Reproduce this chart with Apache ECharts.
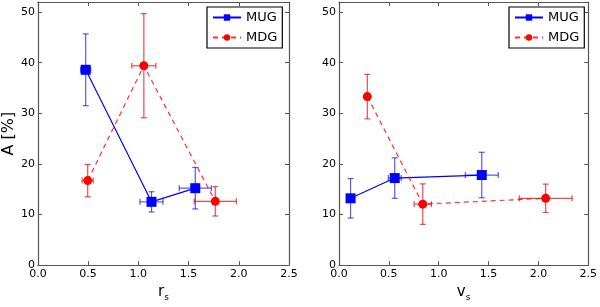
<!DOCTYPE html>
<html><head><meta charset="utf-8">
<script src="https://cdn.jsdelivr.net/npm/echarts@6/dist/echarts.min.js"></script>
<style>html,body{margin:0;padding:0;background:#fff}#c{width:600px;height:307px}</style>
</head><body><div id="c"></div>
<script>
// Left panel: A vs r_s
const rsMUG_x = [0.476, 1.131, 1.567];
const rsMUG_y = [38.6, 12.5, 15.2];
const rsMUG_xerr = [0.05, 0.115, 0.16];
const rsMUG_yerr = [7.1, 2.0, 4.1];
const rsMDG_x = [0.496, 1.055, 1.766];
const rsMDG_y = [16.7, 39.4, 12.6];
const rsMDG_xerr = [0.055, 0.12, 0.21];
const rsMDG_yerr = [3.2, 10.3, 2.9];
// Right panel: A vs v_s
const vsMUG_x = [0.116, 0.559, 1.432];
const vsMUG_y = [13.2, 17.2, 17.8];
const vsMUG_xerr = [0.02, 0.065, 0.165];
const vsMUG_yerr = [3.9, 4.0, 4.5];
const vsMDG_x = [0.284, 0.840, 2.073];
const vsMDG_y = [33.3, 12.05, 13.2];
const vsMDG_xerr = [0.02, 0.087, 0.265];
const vsMDG_yerr = [4.4, 4.0, 2.8];
const seriesNames = ['MUG', 'MDG'];
const xTicks = [0, 0.5, 1.0, 1.5, 2.0, 2.5];
const yTicks = [0, 10, 20, 30, 40, 50];

const FONT = 'DejaVu Sans';
const BLUE = '#0000ff', RED = '#ff0000';
const AXC = '#555';

function pts(xs, ys) { return xs.map((x, i) => [x, ys[i]]); }
function errs(xs, ys, ex, ey) { return xs.map((x, i) => [x, ys[i], ex[i], ey[i]]); }

function errSeries(data, color, xi, yi) {
  return {
    type: 'custom', xAxisIndex: xi, yAxisIndex: yi, z: 1, silent: true,
    encode: { x: 0, y: 1 },
    data: data,
    renderItem: function (params, api) {
      const x = api.value(0), y = api.value(1), ex = api.value(2), ey = api.value(3);
      const L = api.coord([x - ex, y]), R = api.coord([x + ex, y]);
      const T = api.coord([x, y + ey]), B = api.coord([x, y - ey]);
      const c = 3;
      const st = { stroke: color, lineWidth: 1.2, fill: null };
      const line = (x1, y1, x2, y2) => ({ type: 'line', shape: { x1, y1, x2, y2 }, style: st });
      return { type: 'group', children: [
        line(L[0], L[1], R[0], R[1]),
        line(L[0], L[1] - c, L[0], L[1] + c),
        line(R[0], R[1] - c, R[0], R[1] + c),
        line(T[0], T[1], B[0], B[1]),
        line(T[0] - c, T[1], T[0] + c, T[1]),
        line(B[0] - c, B[1], B[0] + c, B[1])
      ]};
    }
  };
}

function xAx(grid, pos, name) {
  return {
    type: 'value', gridIndex: grid, position: pos, min: xTicks[0], max: xTicks[xTicks.length - 1], interval: 0.5,
    axisLine: { show: true, onZero: false, lineStyle: { color: AXC, width: 1.2 } },
    axisTick: { show: true, inside: true, length: 4, lineStyle: { color: AXC } },
    axisLabel: { show: pos === 'bottom', color: '#000', fontFamily: FONT, fontSize: 11, margin: 4,
      formatter: v => v.toFixed(1) },
    splitLine: { show: false },
    name: pos === 'bottom' ? name : '', nameLocation: 'middle', nameGap: 15,
    nameTextStyle: { color: '#000', fontFamily: FONT, fontSize: 15,
      rich: { s: { fontFamily: FONT, fontSize: 9, color: '#000', verticalAlign: 'bottom', padding: [10, 0, 0, 0] } } }
  };
}
function yAx(grid, pos, name) {
  return {
    type: 'value', gridIndex: grid, position: pos, min: 0, max: 52, interval: 10,
    axisLine: { show: true, onZero: false, lineStyle: { color: AXC, width: 1.2 } },
    axisTick: { show: true, inside: true, length: 4, lineStyle: { color: AXC } },
    axisLabel: { show: pos === 'left', color: '#000', fontFamily: FONT, fontSize: 11, margin: 3,
      formatter: v => (yTicks.indexOf(v) >= 0 ? String(v) : '') },
    splitLine: { show: false },
    name: name, nameLocation: 'middle', nameGap: 20,
    nameTextStyle: { color: '#000', fontFamily: FONT, fontSize: 16 }
  };
}
function lineSeries(name, data, color, dashed, symbol, size, xi, yi) {
  return {
    name: name, type: 'line', xAxisIndex: xi, yAxisIndex: yi, z: 3,
    data: data, symbol: symbol, symbolSize: size, showSymbol: true,
    lineStyle: { color: color, width: 1.2, type: dashed ? [5, 4] : 'solid', opacity: dashed ? 0.8 : 1 },
    itemStyle: { color: color }, animation: false
  };
}
function legend(left) {
  return {
    data: seriesNames, orient: 'vertical', left: left, top: 7,
    backgroundColor: '#fff', borderColor: '#000', borderWidth: 1.2, borderRadius: 0,
    padding: [4, 5, 4, 5], itemGap: 7, itemWidth: 28, itemHeight: 8,
    textStyle: { color: '#000', fontFamily: FONT, fontSize: 13 }, selectedMode: false
  };
}

const chart = echarts.init(document.getElementById('c'), null, { renderer: 'canvas' });
chart.setOption({
  animation: false,
  backgroundColor: '#fff',
  grid: [
    { left: 37, top: 2, width: 252, height: 270 },
    { left: 339, top: 2, width: 252, height: 270 }
  ],
  xAxis: [xAx(0, 'bottom', 'r{s|s}'), xAx(0, 'top', ''), xAx(1, 'bottom', 'v{s|s}'), xAx(1, 'top', '')],
  yAxis: [yAx(0, 'left', 'A [%]'), yAx(0, 'right', ''), yAx(1, 'left', ''), yAx(1, 'right', '')],
  legend: [legend(207), legend(509)],
  series: [
    errSeries(errs(rsMUG_x, rsMUG_y, rsMUG_xerr, rsMUG_yerr), 'rgba(0,0,230,0.65)', 0, 0),
    errSeries(errs(rsMDG_x, rsMDG_y, rsMDG_xerr, rsMDG_yerr), 'rgba(230,0,0,0.7)', 0, 0),
    lineSeries('MUG', pts(rsMUG_x, rsMUG_y), BLUE, false, 'rect', 10, 0, 0),
    lineSeries('MDG', pts(rsMDG_x, rsMDG_y), RED, true, 'circle', 9, 0, 0),
    errSeries(errs(vsMUG_x, vsMUG_y, vsMUG_xerr, vsMUG_yerr), 'rgba(0,0,230,0.65)', 2, 2),
    errSeries(errs(vsMDG_x, vsMDG_y, vsMDG_xerr, vsMDG_yerr), 'rgba(230,0,0,0.7)', 2, 2),
    lineSeries('MUG', pts(vsMUG_x, vsMUG_y), BLUE, false, 'rect', 10, 2, 2),
    lineSeries('MDG', pts(vsMDG_x, vsMDG_y), RED, true, 'circle', 9, 2, 2)
  ]
});
</script>
</body></html>
